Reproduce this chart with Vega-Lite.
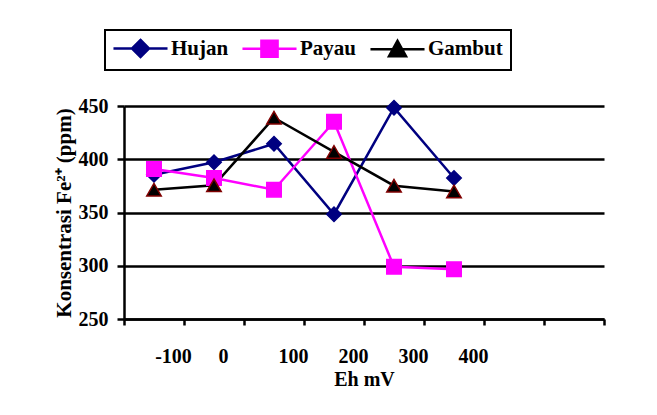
{
  "$schema": "https://vega.github.io/schema/vega-lite/v6.json",
  "width": 480,
  "height": 213,
  "autosize": {"type": "none"},
  "padding": {"left": 124, "top": 106, "right": 53, "bottom": 96},
  "background": "white",
  "config": {
    "font": "Liberation Serif",
    "view": {"stroke": null},
    "legend": {
      "orient": "none",
      "legendX": -19,
      "legendY": -76,
      "direction": "horizontal",
      "labelFont": "Liberation Serif",
      "labelFontSize": 21,
      "labelFontWeight": "bold",
      "labelColor": "black",
      "symbolSize": 289,
      "symbolStrokeWidth": 2.5,
      "symbolOffset": 17,
      "labelOffset": 20,
      "columnPadding": 8,
      "padding": 8,
      "strokeColor": "black",
      "strokeWidth": 2
    }
  },
  "data": {
    "values": [
      {"series": "Hujan", "eh": "-100", "fe": 385.5},
      {"series": "Hujan", "eh": "0", "fe": 397.2},
      {"series": "Hujan", "eh": "100", "fe": 414.5},
      {"series": "Hujan", "eh": "200", "fe": 348.4},
      {"series": "Hujan", "eh": "300", "fe": 448.4},
      {"series": "Hujan", "eh": "400", "fe": 382.4},
      {"series": "Payau", "eh": "-100", "fe": 390.9},
      {"series": "Payau", "eh": "0", "fe": 382.4},
      {"series": "Payau", "eh": "100", "fe": 371.4},
      {"series": "Payau", "eh": "200", "fe": 435.2},
      {"series": "Payau", "eh": "300", "fe": 299.0},
      {"series": "Payau", "eh": "400", "fe": 296.8},
      {"series": "Gambut", "eh": "-100", "fe": 371.4},
      {"series": "Gambut", "eh": "0", "fe": 375.5},
      {"series": "Gambut", "eh": "100", "fe": 439.0},
      {"series": "Gambut", "eh": "200", "fe": 406.9},
      {"series": "Gambut", "eh": "300", "fe": 375.2},
      {"series": "Gambut", "eh": "400", "fe": 369.8}
    ]
  },
  "encoding": {
    "x": {
      "field": "eh",
      "type": "ordinal",
      "scale": {"type": "band", "domain": ["-100", "0", "100", "200", "300", "400", "a", "b"], "paddingInner": 0, "paddingOuter": 0},
      "axis": {
        "title": "Eh mV",
        "tickBand": "extent",
        "labelExpr": "datum.value === 'a' || datum.value === 'b' ? '' : datum.value",
        "domainColor": "black",
        "domainWidth": 2.5,
        "tickColor": "black",
        "tickWidth": 2.5,
        "tickSize": 6,
        "labelPadding": 21,
        "labelAngle": 0,
        "labelOffset": {"condition": {"test": "datum.value === '0'", "value": 9}, "value": 19},
        "labelFont": "Liberation Serif",
        "labelFontSize": 20,
        "labelFontWeight": "bold",
        "labelColor": "black",
        "titleFont": "Liberation Serif",
        "titleFontSize": 20,
        "titleFontWeight": "bold",
        "titleColor": "black",
        "titlePadding": 3
      }
    },
    "y": {
      "field": "fe",
      "type": "quantitative",
      "scale": {"domain": [250, 450], "nice": false, "zero": false},
      "axis": {
        "title": "Konsentrasi Fe²⁺ (ppm)",
        "values": [250, 300, 350, 400, 450],
        "grid": true,
        "gridColor": "black",
        "gridWidth": 2.5,
        "gridOpacity": 1,
        "domainColor": "black",
        "domainWidth": 2.5,
        "tickColor": "black",
        "tickWidth": 2.5,
        "tickSize": 7,
        "labelPadding": 9,
        "labelFlush": false,
        "labelOverlap": false,
        "labelFont": "Liberation Serif",
        "labelFontSize": 20,
        "labelFontWeight": "bold",
        "labelColor": "black",
        "titleFont": "Liberation Serif",
        "titleFontSize": 21,
        "titleFontWeight": "bold",
        "titleColor": "black",
        "titlePadding": 4
      }
    }
  },
  "layer": [
    {
      "mark": {"type": "line", "strokeWidth": 2.5},
      "encoding": {
        "color": {
          "field": "series",
          "type": "nominal",
          "scale": {"domain": ["Hujan", "Payau", "Gambut"], "range": ["#000080", "#FF00FF", "#000000"]},
          "legend": null
        }
      }
    },
    {
      "mark": {"type": "point", "filled": true, "size": 210, "strokeWidth": 1.5, "opacity": 1},
      "encoding": {
        "color": {"field": "series", "type": "nominal", "legend": null},
        "shape": {
          "field": "series",
          "type": "nominal",
          "scale": {"domain": ["Hujan", "Payau", "Gambut"], "range": ["diamond", "square", "triangle-up"]},
          "legend": null
        },
        "stroke": {
          "field": "series",
          "type": "nominal",
          "scale": {"domain": ["Hujan", "Payau", "Gambut"], "range": ["#000080", "#FF00FF", "#800000"]},
          "legend": null
        }
      }
    },
    {
      "transform": [{"filter": "datum.series === 'none'"}],
      "mark": {"type": "point", "strokeWidth": 2.5, "opacity": 1},
      "encoding": {
        "fill": {
          "field": "series",
          "type": "nominal",
          "scale": {"domain": ["Hujan", "Payau", "Gambut"], "range": ["#000080", "#FF00FF", "#000000"]},
          "legend": {"title": null}
        },
        "stroke": {
          "field": "series",
          "type": "nominal",
          "scale": {"domain": ["Hujan", "Payau", "Gambut"], "range": ["#000080", "#FF00FF", "#000000"]},
          "legend": {"title": null}
        },
        "shape": {
          "field": "series",
          "type": "nominal",
          "scale": {
            "domain": ["Hujan", "Payau", "Gambut"],
            "range": [
              "M-3.18,0H3.18M0,-1L1,0L0,1L-1,0Z",
              "M-3.18,0H3.18M-0.95,-0.95H0.95V0.95H-0.95Z",
              "M-3.18,0H3.18M0,-1L1,0.8H-1Z"
            ]
          },
          "legend": {"title": null}
        }
      }
    }
  ],
  "resolve": {"scale": {"shape": "independent", "stroke": "independent", "fill": "independent"}}
}
